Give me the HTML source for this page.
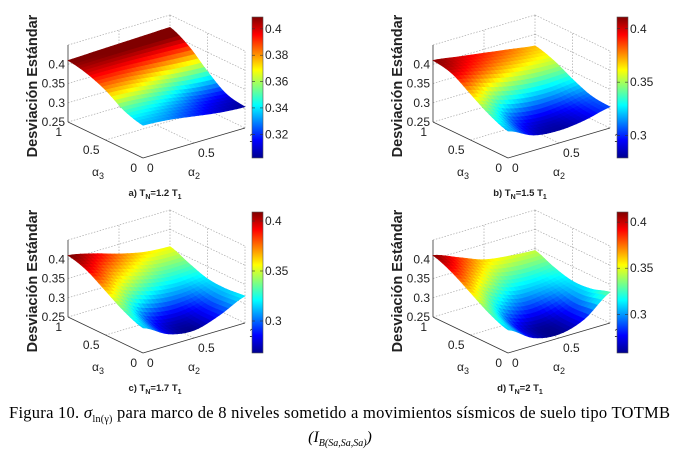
<!DOCTYPE html>
<html><head><meta charset="utf-8"><style>
body{margin:0;background:#fff;width:678px;height:457px;overflow:hidden}
svg{display:block}
.t{font-family:"Liberation Sans",sans-serif;fill:#222}
.cap{font-family:"Liberation Serif",serif;fill:#000}
</style></head><body>
<svg id="fig" width="678" height="457" viewBox="0 0 678 457" xmlns="http://www.w3.org/2000/svg">
<text class="cap" x="9" y="418" font-size="16.5" textLength="661" lengthAdjust="spacing">Figura 10. <tspan font-style="italic" font-size="17">σ</tspan><tspan font-size="10" dy="4">ln(γ)</tspan><tspan dy="-4"> para marco de 8 niveles sometido a movimientos sísmicos de suelo tipo TOTMB</tspan></text>
<text class="cap" x="340" y="442" font-size="16" text-anchor="middle" font-style="italic">(I<tspan font-size="10" dy="4">B(Sa,Sa,Sa)</tspan><tspan dy="-4">)</tspan></text>
</svg>
<script>
const alphaGrid=[0,0.25,0.5,0.75,1];
const zTicks=[0.25,0.3,0.35,0.4];
const panelLabels=["a) T","b) T","c) T","d) T"];
const panelRatios=["=1.2 T","=1.5 T","=1.7 T","=2 T"];
const cbarTicksA=[0.32,0.34,0.36,0.38,0.4];
const cbarTicksB=[0.3,0.35,0.4];
const climA=[0.302,0.409];
const climB=[0.279,0.411];
const climC=[0.268,0.409];
const climD=[0.258,0.411];
// rows: alpha3 = 0..1, cols: alpha2 = 0..1
const surfA=[[0.335,0.33,0.32,0.31,0.305],[0.35,0.345,0.335,0.322,0.315],[0.38,0.375,0.365,0.355,0.35],[0.40,0.40,0.398,0.395,0.392],[0.41,0.412,0.414,0.416,0.418]];
const surfB=[[0.32,0.29,0.283,0.29,0.305],[0.34,0.305,0.293,0.298,0.31],[0.37,0.345,0.33,0.325,0.33],[0.40,0.385,0.37,0.36,0.355],[0.41,0.40,0.39,0.38,0.37]];
const surfC=[[0.315,0.28,0.27,0.29,0.32],[0.335,0.293,0.28,0.29,0.315],[0.365,0.335,0.315,0.31,0.318],[0.395,0.37,0.35,0.335,0.335],[0.41,0.395,0.375,0.36,0.355]];
const surfD=[[0.31,0.27,0.26,0.28,0.33],[0.33,0.28,0.265,0.28,0.315],[0.36,0.32,0.295,0.30,0.312],[0.39,0.36,0.33,0.32,0.325],[0.41,0.385,0.36,0.35,0.345]];

const NS="http://www.w3.org/2000/svg";
const svg=document.getElementById('fig');
function mk(tag,attrs,parent){const e=document.createElementNS(NS,tag);for(const k in attrs)e.setAttribute(k,attrs[k]);(parent||svg).appendChild(e);return e;}
function jet(t){t=Math.max(0,Math.min(1,t));
 const r=Math.max(0,Math.min(1,1.5-Math.abs(4*t-3))),g=Math.max(0,Math.min(1,1.5-Math.abs(4*t-2))),b=Math.max(0,Math.min(1,1.5-Math.abs(4*t-1)));
 return `rgb(${Math.round(r*255)},${Math.round(g*255)},${Math.round(b*255)})`;}
function cr(p0,p1,p2,p3,t){return 0.5*((2*p1)+(-p0+p2)*t+(2*p0-5*p1+4*p2-p3)*t*t+(-p0+3*p1-3*p2+p3)*t*t*t);}
function sample(Z,a2,a3){
 const n=alphaGrid.length-1;
 const fx=a2*n,fy=a3*n;let ix=Math.min(n-1,Math.floor(fx)),iy=Math.min(n-1,Math.floor(fy));
 const tx=fx-ix,ty=fy-iy;
 const g=(r,c)=>Z[Math.max(0,Math.min(n,r))][Math.max(0,Math.min(n,c))];
 const rows=[];for(let r=iy-1;r<=iy+2;r++)rows.push(cr(g(r,ix-1),g(r,ix),g(r,ix+1),g(r,ix+2),tx));
 return cr(rows[0],rows[1],rows[2],rows[3],ty);}

const panels=[
 {dx:0,dy:0,Z:surfA,clim:climA,ticks:cbarTicksA,name:'a'},
 {dx:365,dy:0,Z:surfB,clim:climB,ticks:cbarTicksB,name:'b'},
 {dx:0,dy:195,Z:surfC,clim:climC,ticks:cbarTicksB,name:'c'},
 {dx:365,dy:195,Z:surfD,clim:climD,ticks:cbarTicksB,name:'d'}];
const Z0=0.25,Z1=0.45,ZS=385;

panels.forEach((p,pi)=>{
 const g=mk('g',{transform:`translate(${p.dx},${p.dy})`});
 
 
 const F=[143,158],V2=[102,-30],V3=[-75,-36];
 const P=(a2,a3,z)=>[F[0]+a2*V2[0]+a3*V3[0],F[1]+a2*V2[1]+a3*V3[1]-(z-Z0)*ZS];
 const line=(a,b,dash,name)=>{const l=mk('line',{x1:a[0],y1:a[1],x2:b[0],y2:b[1],stroke:dash?'#aaa':'#333','stroke-width':dash?0.7:0.8,'stroke-dasharray':dash?'1.5,1.5':'none'},g);};
 [0.3,0.35,0.4,0.45].forEach(z=>{line(P(0,1,z),P(1,1,z),true,'grid-line');line(P(1,1,z),P(1,0,z),true,'grid-line');});
 [0.5,1].forEach(a=>{line(P(a,1,Z0),P(a,1,Z1),true,'grid-line');});
 [0,0.5].forEach(a=>{line(P(1,a,Z0),P(1,a,Z1),true,'grid-line');});
 line(P(0.5,0,Z0),P(0.5,1,Z0),true,'grid-line');line(P(0,0.5,Z0),P(1,0.5,Z0),true,'grid-line');
 line(P(0,1,Z0),P(1,1,Z0),true,'grid-line');line(P(1,1,Z0),P(1,0,Z0),true,'grid-line');
 line(P(0,1,Z0),P(0,1,Z1),false,'z-axis');
 line(P(0,1,Z0),P(0,0,Z0),false,'alpha3-axis');
 line(P(0,0,Z0),P(1,0,Z0),false,'alpha2-axis');
 const N=24,quads=[];
 const zz=[];for(let i=0;i<=N;i++){zz.push([]);for(let j=0;j<=N;j++)zz[i].push(sample(p.Z,j/N,i/N));}
 for(let i=0;i<N;i++)for(let j=0;j<N;j++)quads.push([i,j]);
 quads.sort((a,b)=>(b[0]+b[1])-(a[0]+a[1]));
 const sg=mk('g',{},g);
 
 
 quads.forEach(([i,j])=>{
  const pts=[[j,i],[j+1,i],[j+1,i+1],[j,i+1]].map(([c,r])=>P(c/N,r/N,zz[r][c]));
  const zm=(zz[i][j]+zz[i][j+1]+zz[i+1][j]+zz[i+1][j+1])/4;
  const col=jet((zm-p.clim[0])/(p.clim[1]-p.clim[0]));
  const q=mk('polygon',{points:pts.map(v=>v.join(',')).join(' '),fill:col,stroke:col,'stroke-width':0.6},sg);
  
  
 });
 zTicks.forEach(z=>{const q=P(0,1,z);const t=mk('text',{x:q[0]-3,y:q[1]+4,'font-size':12,'text-anchor':'end',class:'t'},g);t.textContent=String(z);});
 [[1,'1'],[0.5,'0.5'],[0,'0']].forEach(([a,s])=>{const q=P(0,a,Z0);const t=mk('text',{x:q[0]-6,y:q[1]+14,'font-size':12,'text-anchor':'end',class:'t'},g);t.textContent=s;});
 [[0,'0'],[0.5,'0.5'],[1,'1']].forEach(([a,s])=>{const q=P(a,0,Z0);const t=mk('text',{x:q[0]+4,y:q[1]+14,'font-size':12,'text-anchor':'start',class:'t'},g);t.textContent=s;});
 let t=mk('text',{x:92,y:176,'font-size':12,class:'t'},g);t.innerHTML='α<tspan font-size="9" dy="3">3</tspan>';
 t=mk('text',{x:188,y:176,'font-size':12,class:'t'},g);t.innerHTML='α<tspan font-size="9" dy="3">2</tspan>';
 t=mk('text',{x:0,y:0,'font-size':14.5,'font-weight':'bold','text-anchor':'middle',class:'t',fill:'#111',transform:'translate(37,86) rotate(-90)'},g);t.textContent='Desviación Estándar';
 t=mk('text',{x:155,y:196,'font-size':9.5,'font-weight':'bold','text-anchor':'middle',class:'t'},g);
 t.innerHTML=panelLabels[pi]+'<tspan font-size="7" dy="3">N</tspan><tspan dy="-3">'+panelRatios[pi]+'</tspan><tspan font-size="7" dy="3">1</tspan>';
 
 const gid='jet'+pi;const lg=mk('linearGradient',{id:gid,x1:0,y1:1,x2:0,y2:0},g);
 [[0,'#00008f'],[0.125,'#0000ff'],[0.375,'#00ffff'],[0.625,'#ffff00'],[0.875,'#ff0000'],[1,'#800000']].forEach(([o,c])=>mk('stop',{offset:o,'stop-color':c},lg));
 const cb=mk('rect',{x:252,y:17,width:11,height:141,fill:`url(#${gid})`,stroke:'#555','stroke-width':0.6},g);
 
 const cy=v=>158-(v-p.clim[0])/(p.clim[1]-p.clim[0])*141;
 p.ticks.forEach(v=>{const y=cy(v);mk('line',{x1:252,x2:255,y1:y,y2:y,stroke:'#333','stroke-width':0.6},g);mk('line',{x1:260,x2:263,y1:y,y2:y,stroke:'#333','stroke-width':0.6},g);
  const tt=mk('text',{x:265,y:y+4,'font-size':12,class:'t'},g);tt.textContent=String(v);});
});
</script>
</body></html>
